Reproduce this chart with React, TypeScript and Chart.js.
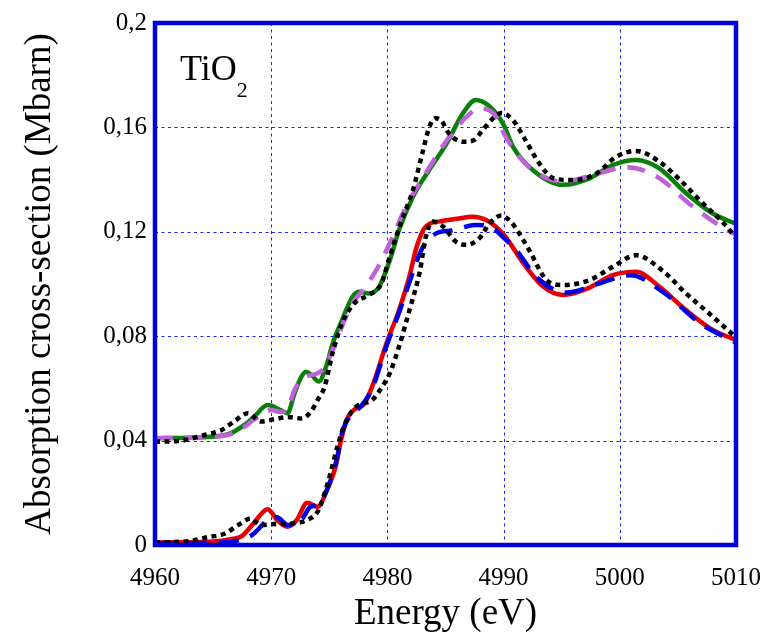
import React, { useEffect, useRef } from "react";
import { Chart, registerables } from "chart.js";

Chart.register(...registerables);

// Axis ticks
const xTickValues = [4960, 4970, 4980, 4990, 5000, 5010];
const yTickValues = [0, 0.04, 0.08, 0.12, 0.16, 0.2];
const yTickLabels = ["0", "0,04", "0,08", "0,12", "0,16", "0,2"];

// Upper group (offset) – experiment (black dotted)
const expUpperE = [4960, 4962, 4964.2, 4965.7, 4966.8, 4968, 4969.1, 4970.3, 4971.4, 4972.6, 4973.4, 4974, 4974.6, 4975.3, 4976.1, 4976.7, 4977.3, 4978.4, 4979.5, 4980.2, 4981.2, 4982.2, 4983, 4983.6, 4984.1, 4984.6, 4985.3, 4986.5, 4987.4, 4988.2, 4989.1, 4989.8, 4990.8, 4991.9, 4993.1, 4994.3, 4996, 4998, 4999.7, 5001.4, 5003.4, 5005.2, 5006.9, 5009.2, 5010];
const expUpperV = [0.0396, 0.0398, 0.0421, 0.044, 0.0473, 0.0505, 0.0473, 0.0482, 0.049, 0.0485, 0.051, 0.0556, 0.0607, 0.074, 0.085, 0.09, 0.0932, 0.0958, 0.1003, 0.1105, 0.124, 0.136, 0.15, 0.16, 0.1635, 0.1628, 0.1577, 0.1545, 0.155, 0.159, 0.1635, 0.1655, 0.1628, 0.155, 0.146, 0.1405, 0.1398, 0.1424, 0.1488, 0.151, 0.1469, 0.1398, 0.132, 0.122, 0.1175];

// Upper group – theory 1 (green solid)
const greenE = [4960, 4964.2, 4966.5, 4967.7, 4968.5, 4969.7, 4970.8, 4971.4, 4972, 4972.6, 4973, 4973.5, 4974.1, 4974.7, 4975.3, 4976.1, 4977, 4977.6, 4978.4, 4979.3, 4980.2, 4981, 4982.2, 4983.6, 4985.1, 4986.5, 4987.6, 4988.8, 4990, 4990.8, 4992.5, 4995.1, 4997.4, 4999.4, 5001.4, 5003.4, 5005.7, 5008, 5010];
const greenV = [0.0409, 0.0413, 0.0428, 0.046, 0.049, 0.0536, 0.0517, 0.0505, 0.058, 0.0645, 0.0664, 0.065, 0.0626, 0.068, 0.0773, 0.0862, 0.0951, 0.097, 0.0964, 0.099, 0.109, 0.1207, 0.1334, 0.1437, 0.1539, 0.1654, 0.1705, 0.168, 0.161, 0.1526, 0.1437, 0.138, 0.1405, 0.1456, 0.1475, 0.1443, 0.1348, 0.127, 0.123];

// Upper group – theory 2 (violet dashed)
const violetE = [4960, 4964.2, 4966.5, 4967.7, 4968.5, 4970, 4970.8, 4971.4, 4972, 4972.8, 4974.4, 4975.3, 4976.2, 4977, 4977.9, 4979, 4980.2, 4981.6, 4983.3, 4985.1, 4986.8, 4987.9, 4989.4, 4990.1, 4991.9, 4993.5, 4995.1, 4997.7, 5000.6, 5003.2, 5006.3, 5009.2, 5010];
const violetV = [0.0409, 0.0413, 0.0425, 0.0453, 0.048, 0.0517, 0.051, 0.052, 0.0594, 0.064, 0.067, 0.0747, 0.085, 0.0926, 0.0977, 0.105, 0.1156, 0.1296, 0.1424, 0.155, 0.164, 0.1673, 0.164, 0.157, 0.146, 0.141, 0.1392, 0.1418, 0.1447, 0.1411, 0.1296, 0.1207, 0.119];

// Lower group – experiment (black dotted)
const expLowerE = [4960, 4963, 4964.5, 4965.9, 4967.4, 4968.2, 4969.1, 4970.3, 4972, 4973.1, 4974, 4974.6, 4975.1, 4975.7, 4976.3, 4977.3, 4978.7, 4979.6, 4980.2, 4981, 4981.9, 4982.8, 4983.3, 4983.9, 4984.8, 4985.9, 4986.8, 4987.9, 4988.8, 4989.8, 4990.6, 4991.4, 4992.2, 4993.7, 4995.1, 4997.4, 4999.4, 5001.4, 5003.7, 5005.7, 5008, 5010];
const expLowerV = [0.001, 0.0015, 0.003, 0.0042, 0.0083, 0.0102, 0.0077, 0.008, 0.0083, 0.0096, 0.0128, 0.0198, 0.0275, 0.0377, 0.046, 0.053, 0.0556, 0.061, 0.0658, 0.076, 0.09, 0.105, 0.118, 0.1239, 0.122, 0.1162, 0.115, 0.1175, 0.1232, 0.1262, 0.124, 0.119, 0.113, 0.1015, 0.0996, 0.1015, 0.1066, 0.111, 0.105, 0.0964, 0.0875, 0.0795];

// Lower group – theory 1 (red solid)
const redE = [4960, 4963, 4965, 4966.5, 4967.5, 4968.5, 4969.7, 4970.5, 4971.4, 4972.2, 4973.1, 4974, 4974.8, 4975.6, 4976, 4976.6, 4977.2, 4978, 4978.8, 4979.9, 4981, 4981.9, 4982.5, 4983.3, 4984.5, 4986, 4987.3, 4988.5, 4990, 4991.7, 4993.4, 4995.1, 4997.1, 4999.4, 5001.4, 5003.4, 5005.7, 5008, 5010];
const redV = [0.001, 0.0011, 0.0013, 0.0022, 0.0035, 0.0084, 0.0137, 0.0096, 0.007, 0.0096, 0.0162, 0.0147, 0.021, 0.031, 0.04, 0.049, 0.052, 0.054, 0.062, 0.077, 0.09, 0.103, 0.114, 0.122, 0.124, 0.125, 0.1258, 0.1245, 0.119, 0.108, 0.099, 0.0958, 0.098, 0.1034, 0.1047, 0.099, 0.09, 0.0824, 0.0785];

// Lower group – theory 2 (blue dashed)
const blueE = [4960, 4963, 4965.7, 4967.4, 4968.4, 4969.2, 4969.8, 4970.5, 4971.4, 4972.6, 4973.4, 4974, 4974.9, 4975.7, 4976.1, 4976.9, 4977.7, 4978.7, 4979.9, 4981, 4982, 4983, 4984.2, 4985.5, 4987.6, 4988.8, 4990.2, 4991.1, 4992.8, 4995.4, 4998.3, 5000.9, 5003.7, 5006.9, 5010];
const blueV = [0.0007, 0.0007, 0.001, 0.002, 0.004, 0.0075, 0.0102, 0.0106, 0.0077, 0.0096, 0.0147, 0.0153, 0.0223, 0.034, 0.043, 0.05, 0.053, 0.06, 0.076, 0.089, 0.102, 0.1137, 0.1194, 0.1205, 0.1226, 0.122, 0.1169, 0.113, 0.1028, 0.0967, 0.1003, 0.1034, 0.097, 0.085, 0.0775];

const zip = (xs: number[], ys: number[]) => xs.map((x, i) => ({ x, y: ys[i] }));

const SERIF = "'Liberation Serif', 'Times New Roman', serif";

const framePlugin = {
  id: "frameAndGrid",
  beforeDatasetsDraw(chart: any) {
    const { ctx, chartArea } = chart;
    const xs = chart.scales.x;
    const ys = chart.scales.y;
    ctx.save();
    ctx.strokeStyle = "#2020ff";
    ctx.lineWidth = 1;
    ctx.setLineDash([3, 3.5]);
    xTickValues.forEach((v) => {
      const px = Math.round(xs.getPixelForValue(v)) + 0.5;
      ctx.beginPath();
      ctx.moveTo(px, chartArea.top);
      ctx.lineTo(px, chartArea.bottom);
      ctx.stroke();
    });
    yTickValues.forEach((v) => {
      const py = Math.round(ys.getPixelForValue(v)) + 0.5;
      ctx.beginPath();
      ctx.moveTo(chartArea.left, py);
      ctx.lineTo(chartArea.right, py);
      ctx.stroke();
    });
    ctx.restore();
  },
  afterDatasetsDraw(chart: any) {
    const { ctx, chartArea } = chart;
    ctx.save();
    ctx.strokeStyle = "#0000d8";
    ctx.lineWidth = 4.5;
    ctx.setLineDash([]);
    ctx.strokeRect(chartArea.left, chartArea.top, chartArea.right - chartArea.left, chartArea.bottom - chartArea.top);
    // Label
    ctx.fillStyle = "#000";
    ctx.textBaseline = "alphabetic";
    ctx.textAlign = "left";
    ctx.font = `36px ${SERIF}`;
    ctx.fillText("TiO", chartArea.left + 25, chartArea.top + 57);
    const w = ctx.measureText("TiO").width;
    ctx.font = `22px ${SERIF}`;
    ctx.fillText("2", chartArea.left + 25 + w, chartArea.top + 74);
    ctx.restore();
  },
};

export default function App() {
  const ref = useRef<HTMLCanvasElement | null>(null);
  useEffect(() => {
    if (!ref.current) return;
    const common = { pointRadius: 0, pointHoverRadius: 0, fill: false, cubicInterpolationMode: "monotone" as const, borderCapStyle: "butt" as const };
    const chart = new Chart(ref.current, {
      type: "line",
      data: {
        datasets: [
          { ...common, label: "exp (upper)", data: zip(expUpperE, expUpperV), borderColor: "#000000", borderWidth: 4.5, borderDash: [5, 4.5] },
          { ...common, label: "exp (lower)", data: zip(expLowerE, expLowerV), borderColor: "#000000", borderWidth: 4.5, borderDash: [5, 4.5] },
          { ...common, label: "theory 2 (upper)", data: zip(violetE, violetV), borderColor: "#c061d9", borderWidth: 4.5, borderDash: [18, 12] },
          { ...common, label: "theory 2 (lower)", data: zip(blueE, blueV), borderColor: "#0000e6", borderWidth: 4.5, borderDash: [20, 12] },
          { ...common, label: "theory 1 (upper)", data: zip(greenE, greenV), borderColor: "#0a800a", borderWidth: 4.5 },
          { ...common, label: "theory 1 (lower)", data: zip(redE, redV), borderColor: "#e60000", borderWidth: 4.5 },
        ],
      },
      options: {
        responsive: false,
        animation: false,
        events: [],
        layout: { padding: { top: 23, right: 27, bottom: 0, left: 0 } },
        plugins: { legend: { display: false }, tooltip: { enabled: false } },
        scales: {
          x: {
            type: "linear",
            min: 4960,
            max: 5010,
            afterBuildTicks: (s: any) => { s.ticks = xTickValues.map((v) => ({ value: v })); },
            afterFit: (s: any) => { s.height = 91; s.paddingLeft = 0; s.paddingRight = 0; },
            grid: { display: false, drawTicks: false },
            border: { display: false },
            ticks: { color: "#000", font: { family: SERIF, size: 25 }, padding: 18, maxRotation: 0, autoSkip: false, callback: (v: any) => String(v) },
            title: { display: true, text: "Energy (eV)", color: "#000", font: { family: SERIF, size: 37 }, padding: { top: 0, bottom: 0 } },
          },
          y: {
            type: "linear",
            min: 0,
            max: 0.2,
            afterBuildTicks: (s: any) => { s.ticks = yTickValues.map((v) => ({ value: v })); },
            afterFit: (s: any) => { s.width = 155; s.paddingTop = 0; s.paddingBottom = 0; },
            grid: { display: false, drawTicks: false },
            border: { display: false },
            ticks: { color: "#000", font: { family: SERIF, size: 25 }, padding: 8, autoSkip: false, callback: (_v: any, i: number) => yTickLabels[i] },
            title: { display: true, text: "Absorption cross-section (Mbarn)", color: "#000", font: { family: SERIF, size: 37 }, padding: { top: 18, bottom: 0 } },
          },
        },
      },
      plugins: [framePlugin],
    });
    return () => chart.destroy();
  }, []);
  return (
    <div style={{ position: "fixed", left: 0, top: 0, width: 763, height: 636, background: "#fff" }}>
      <canvas ref={ref} width={763} height={636} style={{ display: "block" }} />
    </div>
  );
}
